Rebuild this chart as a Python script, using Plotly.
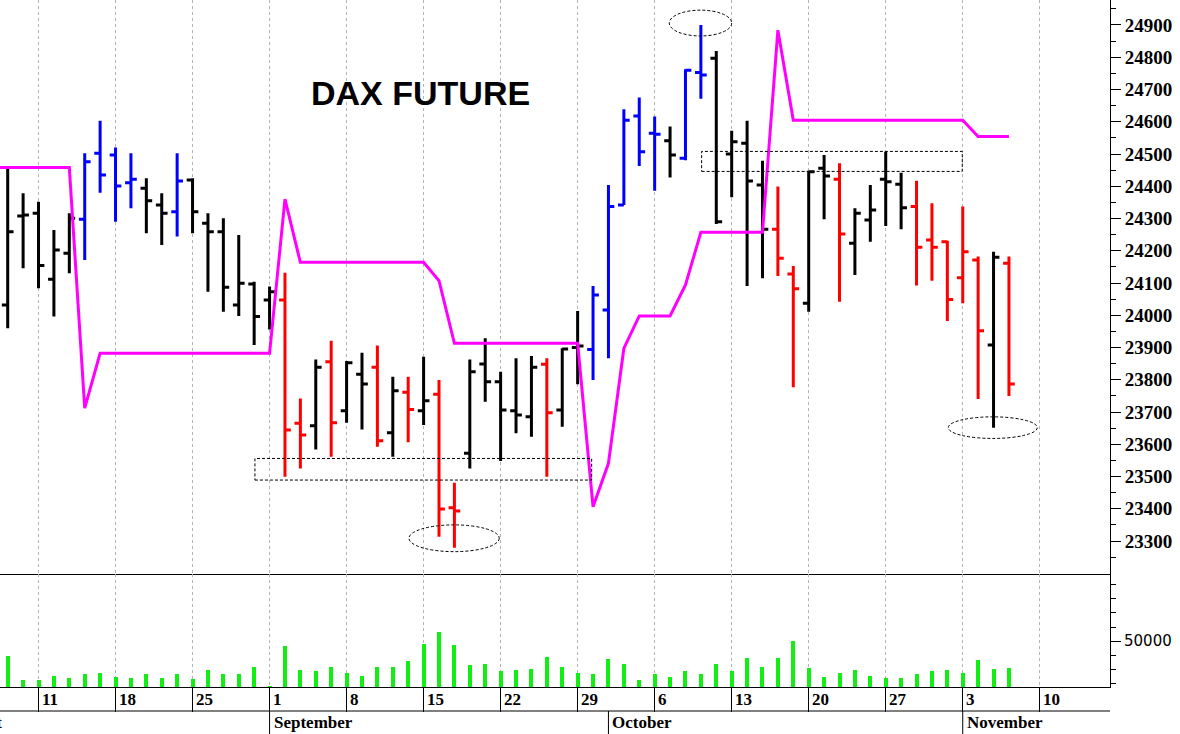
import pandas as pd
import plotly.graph_objects as go

# ---------------- data ----------------
dates = pd.bdate_range("2025-08-07", "2025-11-06")          # trading days (66 bars)
stop_dates = pd.bdate_range("2025-08-06", "2025-11-06")     # magenta line days (67)
axis_days = pd.bdate_range("2025-08-06", "2025-11-14")      # trading-day calendar of the x axis
mondays = pd.date_range("2025-08-11", "2025-11-10", freq="7D")
price_ticks = [23300, 23400, 23500, 23600, 23700, 23800, 23900, 24000, 24100,
               24200, 24300, 24400, 24500, 24600, 24700, 24800, 24900]

opens = [24032, 24308, 24316, 24112, 24192, 24298, 24502, 24497, 24411, 24394, 24342, 24321, 24419, 24285, 24259, 24032, 24097,
         24047, 24047, 23665, 23657, 23856, 23704, 23817, 23839, 23636, 23761, 23704, 23755, 23403, 23572, 23849, 23794, 23704, 23685, 23848, 23706, 23900, 23894,
         24016, 24342, 24618, 24564, 24541, 24487, 24753, 24797, 24500, 24533, 24404, 24267, 24128, 24037, 24456, 24422, 24223, 24295, 24422, 24406, 24337, 24233, 24228,
         24116, 24171, 23908, 24161]
highs = [24456, 24378, 24352, 24264, 24316, 24502, 24603, 24520, 24502, 24425, 24378, 24502, 24425, 24316, 24301, 24249, 24104,
         24089, 24132, 23742, 23863, 23921, 23858, 23884, 23906, 23809, 23809, 23871, 23799, 23481, 23863, 23929, 23825, 23867, 23874, 23867, 23898, 24013, 24091,
         24404, 24639, 24675, 24616, 24585, 24763, 24900, 24819, 24572, 24603, 24479, 24399, 24153, 24448, 24497, 24471, 24332, 24404, 24507, 24442, 24417, 24347, 24231,
         24337, 24182, 24197, 24182]
lows = [23960, 24146, 24084, 23996, 24130, 24171, 24380, 24290, 24332, 24254, 24218, 24244, 24254, 24073, 24011, 23998, 23908,
        23956, 23499, 23525, 23584, 23561, 23667, 23646, 23592, 23561, 23606, 23660, 23313, 23279, 23525, 23732, 23548, 23634, 23623, 23499, 23654, 23786, 23799,
        23867, 24342, 24463, 24386, 24427, 24481, 24671, 24283, 24366, 24091, 24115, 24122, 23777, 24011, 24298, 24042, 24125, 24228, 24277, 24267, 24092, 24107, 23982,
        24037, 23740, 23651, 23750]
closes = [24259, 24311, 24154, 24202, 24301, 24476, 24435, 24401, 24422, 24355, 24316, 24416, 24321, 24259, 24087, 24099, 23996,
          24073, 23644, 23629, 23839, 23667, 23853, 23787, 23611, 23766, 23708, 23735, 23399, 23393, 23825, 23794, 23706, 23691, 23839, 23698, 23895, 23905, 24063,
          24337, 24605, 24507, 24561, 24497, 24760, 24745, 24290, 24538, 24416, 24267, 24177, 24082, 24445, 24432, 24252, 24316, 24326, 24414, 24333, 24211, 24211, 24049,
          24197, 23952, 24180, 23787]
# bar colour codes: k = black, b = blue, r = red
bar_colors = list("kkkkkbbbbkkbkkkkk"           # Aug
                  "krrkrkkrkrkrrkkkkkrkkb"      # Sep
                  "bbbbkbbkkkkrrkkrkkkkrrr"     # Oct
                  "rrkr")                       # Nov
volumes = [39500, 22600, 22100, 25400, 23500, 26400, 27300, 24400, 24000, 26400, 23500, 26400, 23300, 29200, 26400, 26400, 31200,
           18000, 46600, 29200, 28500, 31200, 27100, 25400, 31200, 31400, 35700, 47900, 56200, 46900, 32600, 33300, 28500, 29200, 30400, 38300, 31200, 27100, 26400,
           36900, 33500, 22600, 26400, 24200, 28500, 26400, 33500, 28500, 37800, 31400, 37600, 50000, 30700, 24200, 27300, 29200, 25400, 23500, 23500, 26400, 28500, 29400,
           27300, 36600, 29900, 30700]
stop_line = [24458, 24458, 24458, 24458, 24458, 24458, 23712, 23882,
             23882, 23882, 23882, 23882, 23882, 23882, 23882, 23882, 23882, 23882, 23882,
             24360, 24164, 24164, 24164, 24164, 24164, 24164, 24164, 24164, 24164,
             24107, 23913, 23913, 23913, 23913, 23913, 23913, 23913, 23913, 23913,
             23406, 23541, 23897, 23998, 23998, 23998, 24094,
             24257, 24257, 24257, 24257, 24257, 24884,
             24605, 24605, 24605, 24605, 24605, 24605, 24605, 24605, 24605, 24605, 24605, 24605,
             24554, 24554, 24554]
month_labels = [("2025-09-01", "September"), ("2025-10-01", "October"), ("2025-11-03", "November")]

# annotation boxes: (start day, day fraction, end day, day fraction, price low, price high)
rects = [("2025-08-29", 0.05, "2025-09-29", 0.91, 23489, 23556),
         ("2025-10-09", 0.05, "2025-10-31", 0.97, 24446, 24508)]
ellipses = [("2025-10-06", 0.95, "2025-10-13", 0.0, 24866, 24946),
            ("2025-09-12", 0.05, "2025-09-19", 0.91, 23267, 23350),
            ("2025-10-31", 0.06, "2025-11-07", 0.84, 23618, 23685)]

# ---------------- helpers ----------------
pos_of = {d: i for i, d in enumerate(axis_days)}


def pos(d, frac=0.0):
    return pos_of[pd.Timestamp(d)] + frac


bar_x = [pos(d) for d in dates]
stop_x = [pos(d) for d in stop_dates]
monday_x = [pos(m) for m in mondays]

# ---------------- figure ----------------
COLOR = {"k": "#000000", "b": "#0000ff", "r": "#ff0000"}
fig = go.Figure()
for code, col in COLOR.items():
    idx = [i for i, c in enumerate(bar_colors) if c == code]
    fig.add_trace(go.Ohlc(
        x=[bar_x[i] for i in idx],
        open=[opens[i] for i in idx], high=[highs[i] for i in idx],
        low=[lows[i] for i in idx], close=[closes[i] for i in idx],
        increasing=dict(line=dict(color=col, width=3)),
        decreasing=dict(line=dict(color=col, width=3)),
        tickwidth=0.38, xaxis="x", yaxis="y", showlegend=False, hoverinfo="skip"))

fig.add_trace(go.Scatter(x=stop_x, y=stop_line, mode="lines",
                         line=dict(color="#ff00ff", width=3), xaxis="x", yaxis="y",
                         showlegend=False, hoverinfo="skip"))

fig.add_trace(go.Bar(x=bar_x, y=volumes, marker=dict(color="#11ee11", line=dict(width=0)),
                     width=0.26, xaxis="x2", yaxis="y2", showlegend=False, hoverinfo="skip"))

PLOT_H = 734 - 47
price_bottom = (PLOT_H - 574) / PLOT_H
xrange_ = [pos("2025-08-07", -0.5), pos("2025-11-14", 0.56)]
common_x = dict(type="linear", range=xrange_, autorange=False, automargin=False,
                rangeslider=dict(visible=False), tickmode="array", tickvals=monday_x,
                showticklabels=False, showgrid=True, gridcolor="#b4b4b4", griddash="3px,3px",
                gridwidth=1, showline=True, linecolor="black", linewidth=1, zeroline=False)

fig.update_layout(
    width=1180, height=734, margin=dict(l=0, r=70, t=0, b=47, pad=0),
    paper_bgcolor="white", plot_bgcolor="white", showlegend=False, bargap=0,
    xaxis=dict(domain=[0, 1], anchor="y", ticks="", **common_x),
    xaxis2=dict(domain=[0, 1], anchor="y2", matches="x", ticks="outside", ticklen=24,
                tickcolor="black", tickwidth=1, **common_x),
    yaxis=dict(domain=[price_bottom, 1], side="right", range=[23197.7, 24977.5], automargin=False,
               tickmode="array", tickvals=price_ticks, ticktext=[str(v) for v in price_ticks],
               ticks="outside", ticklen=10,
               tickcolor="black", showline=True, linecolor="black", linewidth=1,
               showgrid=False, zeroline=False,
               minor=dict(tickmode="linear", tick0=23250, dtick=100, ticks="outside",
                          ticklen=5, tickcolor="black", showgrid=False),
               tickfont=dict(family="Liberation Serif", size=19, color="black", weight="bold"),
               ticklabelstandoff=0),
    yaxis2=dict(domain=[0, price_bottom], side="right", range=[17265, 97777], automargin=False,
                tickmode="array", tickvals=[50000], ticktext=["50000"], ticks="outside",
                ticklen=10, tickcolor="black", showline=True, linecolor="black", linewidth=1,
                showgrid=False, zeroline=False,
                minor=dict(tickmode="array", tickvals=[20000, 30000, 40000, 60000, 70000, 80000, 90000],
                           ticks="outside", ticklen=5, tickcolor="black", showgrid=False),
                tickfont=dict(family="DejaVu Sans", size=15, color="black"),
                ticklabelstandoff=0),
)

shapes = []
for d0, f0, d1, f1, y0, y1 in rects:
    shapes.append(dict(type="rect", xref="x", yref="y", x0=pos(d0, f0), x1=pos(d1, f1), y0=y0, y1=y1,
                       line=dict(color="black", width=1, dash="3px,2px")))
for d0, f0, d1, f1, y0, y1 in ellipses:
    shapes.append(dict(type="circle", xref="x", yref="y", x0=pos(d0, f0), x1=pos(d1, f1), y0=y0, y1=y1,
                       line=dict(color="black", width=1, dash="3px,2px")))
row_line_y = -24 / PLOT_H
row_bottom_y = -47 / PLOT_H
shapes.append(dict(type="line", xref="paper", yref="paper", x0=0, x1=1, y0=row_line_y, y1=row_line_y,
                   line=dict(color="black", width=1)))
for d, _ in month_labels:
    shapes.append(dict(type="line", xref="x2", yref="paper", x0=pos(d), x1=pos(d), y0=row_line_y, y1=row_bottom_y,
                       line=dict(color="black", width=1)))
fig.update_layout(shapes=shapes)

annotations = [dict(text="DAX FUTURE", xref="paper", yref="paper", x=420 / 1110, y=(PLOT_H - 93) / PLOT_H,
                    showarrow=False, xanchor="center", yanchor="middle",
                    font=dict(family="Liberation Sans", size=34, color="black", weight="bold"))]
day_font = dict(family="Liberation Serif", size=17, color="black", weight="bold")
for m, mx in zip(mondays, monday_x):
    annotations.append(dict(text=str(m.day), xref="x2", yref="paper", x=mx, y=-12 / PLOT_H,
                            showarrow=False, xanchor="left", yanchor="middle", xshift=1, font=day_font))
for d, name in month_labels:
    annotations.append(dict(text=name, xref="x2", yref="paper", x=pos(d), y=-36 / PLOT_H,
                            showarrow=False, xanchor="left", yanchor="middle", xshift=2, font=day_font))
annotations.append(dict(text="August", xref="x2", yref="paper", x=bar_x[0], y=-36 / PLOT_H,
                        showarrow=False, xanchor="right", yanchor="middle", xshift=-4, font=day_font))
fig.update_layout(annotations=annotations)

fig.write_html("out.html", config={"displayModeBar": False},
               post_script="document.body.style.margin='0px';document.body.style.padding='0px';")
